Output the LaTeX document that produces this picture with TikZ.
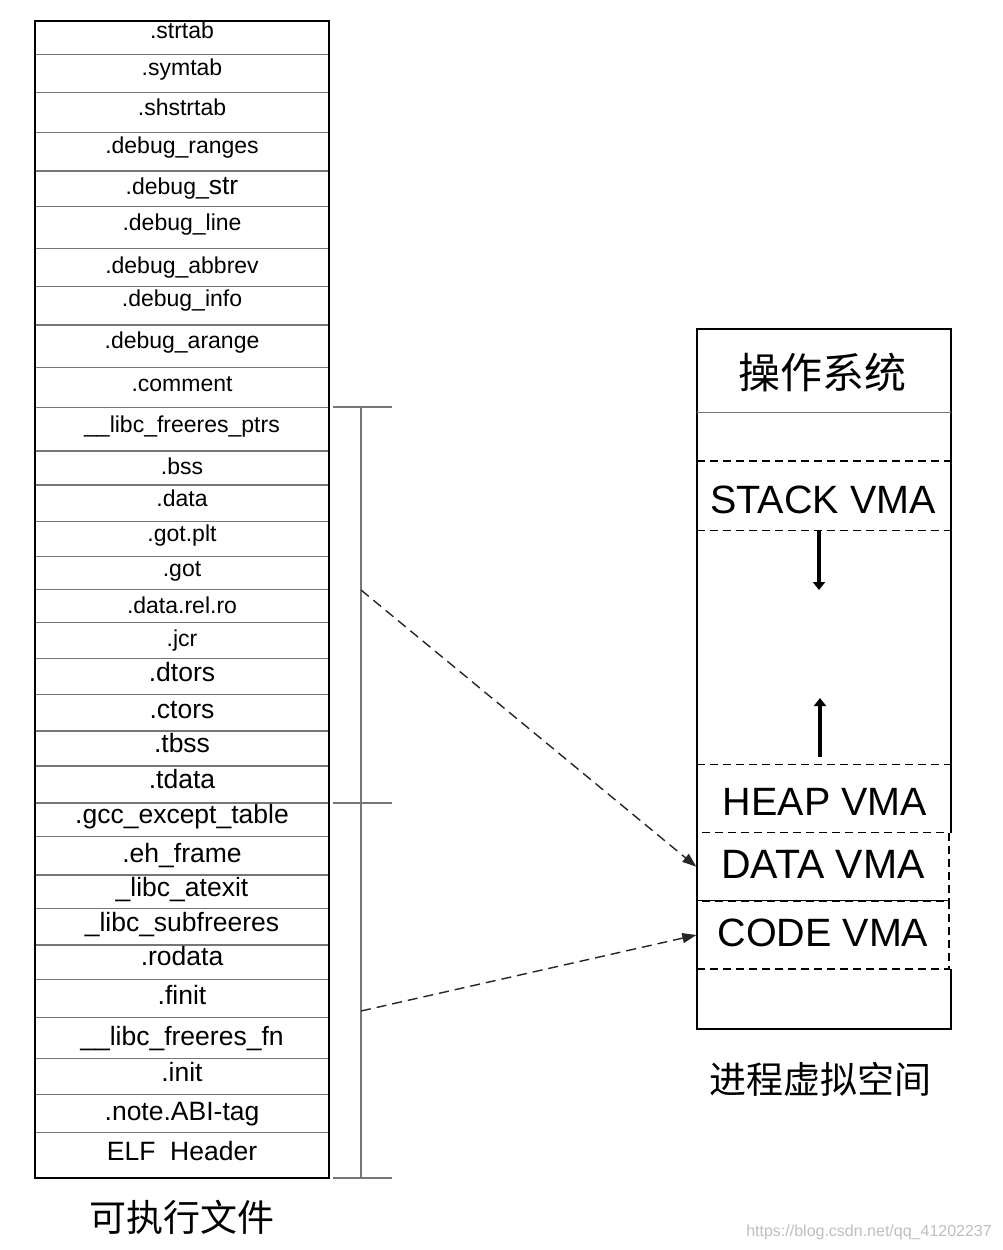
\documentclass[tikz,border=0pt]{standalone}
\usepackage{fontspec}
\setmainfont{Liberation Sans}
\newfontfamily\cjk{Noto Sans CJK SC}
\usetikzlibrary{arrows.meta}
\definecolor{lineGray}{RGB}{118,118,118}

\begin{document}
\begin{tikzpicture}[x=1pt,y=-1pt,
	every node/.style={
		inner sep=0pt,
	},
	seclabel/.style={anchor=base,font=\fontsize{23}{27}\selectfont},
	secbig/.style={anchor=base,font=\fontsize{26.5}{31}\selectfont},
	secline/.style={draw=lineGray,line width=1.3pt},
	outline/.style={draw=black,line width=1.6pt},
	vmaline/.style={draw=black,line width=1.4pt,dash pattern=on 8pt off 5pt},
	vma/.style={font=\fontsize{39.5}{45}\selectfont},
	vmabox/.style={vma,vmaline,minimum width=252pt,minimum height=68pt,text height=25pt,text depth=2pt},
	cjklabel/.style={font=\cjk\fontsize{37}{42}\selectfont},
	mapline/.style={draw=black!85,line width=1.4pt,dash pattern=on 10pt off 6pt,-{Triangle[length=14pt,width=10pt]}},
	growarrow/.style={line width=4pt,-{Triangle[length=8pt,width=12pt]}},
	]
	\path[use as bounding box,fill=white] (0,0) rectangle (1002,1250);
	
	% draw section separators
	\foreach \y in {54.3,92.7,132.7,171,206.7,248.7,286.7,325,367.3,407.3,
		451,485,521.7,556.7,589.3,622.7,658.3,694.7,731,766,803,
		836.7,875,908.7,945,979.3,1017.3,1058.7,1094.7,1132.7}{
		\draw[secline] (35,\y) -- (329,\y);
	}
	
	% draw file outline
	\draw[outline] (35,21) rectangle (329,1178);
	
	% place section labels
	\foreach \y/\name [count=\i] in {38.3/.strtab, 75/.symtab, 115/.shstrtab,
		153.3/.debug\_ranges, 194/.debug\_{\fontsize{26.5}{31}\selectfont str},
		230.7/.debug\_line, 273.3/.debug\_abbrev, 306.7/.debug\_info,
		348.3/.debug\_arange, 391/.comment, 432.3/\_\_libc\_freeres\_ptrs,
		474/.bss, 506.7/.data, 541.7/.got.plt, 576.7/.got, 613.3/.data.rel.ro,
		646/.jcr}{
		\node[seclabel] (sec\i) at (182,\y) {\name};
	}
	\foreach \y/\name [count=\i] in {681.7/.dtors, 718.3/.ctors, 752.3/.tbss,
		788.3/.tdata, 823.3/.gcc\_except\_table, 862.7/.eh\_frame,
		896/\_libc\_atexit, 931.7/\_libc\_subfreeres, 965/.rodata, 1004.3/.finit,
		1045/\_\_libc\_freeres\_fn, 1081.7/.init, 1120/.note.ABI-tag,
		1160/ELF\ \ Header}{
		\node[secbig] (big\i) at (182,\y) {\name};
	}
	
	% draw segment bracket
	\draw[secline] (361,407) -- (361,1178);
	\foreach \y in {407,803,1178}{
		\draw[secline] (333,\y) -- (392,\y);
	}
	\coordinate (dataseg) at (361,590);
	\coordinate (codeseg) at (361,1011);
	
	\node[cjklabel] (elf) at (182,1217) {可执行文件};
	
	% draw process space
	\draw[outline] (951,833) -- (951,329) -- (697,329) -- (697,1029) -- (951,1029) -- (951,969);
	\draw[secline] (697,412.7) -- (951,412.7);
	\foreach \y in {461,530.7,764.7}{
		\draw[vmaline] (697,\y) -- (951,\y);
	}
	
	\node[cjklabel,font=\cjk\fontsize{42}{48}\selectfont] (os) at (822,372) {操作系统};
	\node[vma,anchor=base] (stack) at (823,513.3) {STACK VMA};
	\node[vma,anchor=base] (heap) at (825,815) {HEAP VMA};
	\node[vmabox,font=\fontsize{41}{47}\selectfont] (data) at (823,866.7) {DATA VMA};
	\node[vmabox] (code) at (823,935) {CODE VMA};
	\node[cjklabel] (vspace) at (820,1079) {进程虚拟空间};
	
	% stack and heap growth
	\coordinate (stacktop) at (819,531);
	\coordinate (stackend) at (819,590);
	\coordinate (heapbot) at (820,757);
	\coordinate (heapend) at (820,698);
	\draw[growarrow] (stacktop) -- (stackend);
	\draw[growarrow] (heapbot) -- (heapend);
	
	% draw mappings
	\draw[mapline] (dataseg) -- (data.west);
	\draw[mapline] (codeseg) -- (code.west);
	
	\node[anchor=east,font=\fontsize{16}{19}\selectfont,text=black!25] (mark) at (992,1232) {https://blog.csdn.net/qq\_41202237};
\end{tikzpicture}
\end{document}
